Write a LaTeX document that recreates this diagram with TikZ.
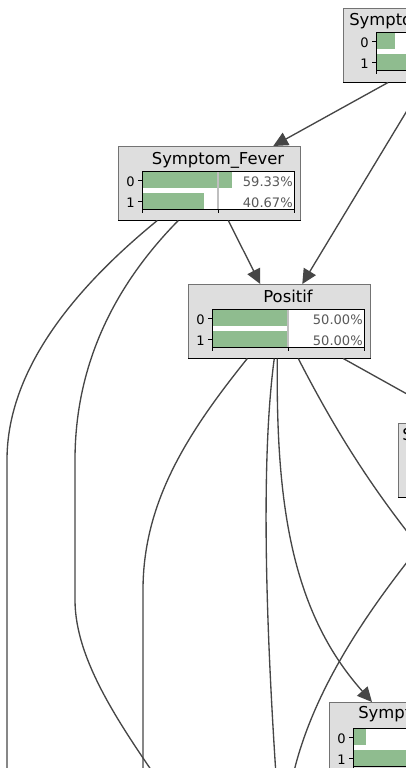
\documentclass[tikz,border=0pt]{standalone}
\usepackage{fontspec}
\setmainfont{DejaVu Sans}
\usetikzlibrary{arrows.meta,calc}

\definecolor{bngreen}{RGB}{143,188,143}
\definecolor{bnfill}{RGB}{222,222,222}
\definecolor{bnline}{RGB}{70,70,70}

\tikzset{
  bnbox/.style={rectangle, draw=black!55, fill=bnfill, inner sep=0pt,
    minimum height=55.5pt, anchor=north west},
  bntitle/.style={inner sep=0pt, font=\fontsize{12.3}{14}\selectfont},
  bnlabel/.style={inner sep=0pt, font=\fontsize{9.8}{11}\selectfont},
  bnpct/.style={bnlabel, text=black!65, anchor=base east},
  bnedge/.style={draw=bnline, line width=1pt},
  bnarrow/.style={bnedge, -{Triangle[length=11pt,width=10.5pt]}},
}

% bar chart of one node: frame left x, frame top y, P(0), P(1)
\newcommand{\bnchart}[4]{%
  \fill[white] (#1,#2) rectangle ++(152,38);
  \fill[bngreen] (#1,#2) rectangle ++({1.52*#3},17);
  \fill[bngreen] (#1,#2+22) rectangle ++({1.52*#4},16);
  \draw[black!25, line width=0.8pt] (#1+76,#2) -- ++(0,38);
  \draw[black, line width=0.7pt] (#1,#2) rectangle ++(152,38);
  \foreach \t in {0,76,152}
    \draw[black, line width=0.6pt] (#1+\t,#2+38) -- ++(0,4);
  \draw[black, line width=0.6pt] (#1,#2+9) -- ++(-4,0) (#1,#2+30) -- ++(-4,0);
  \node[bnlabel, anchor=base east] at (#1-7,#2+15) {0};
  \node[bnlabel, anchor=base east] at (#1-7,#2+36) {1};
}

% dark lower edge of a box
\newcommand{\bnshadow}[1]{%
  \draw[black, line width=1.4pt] (#1.south west) -- (#1.south east);
}

\begin{document}
\begin{tikzpicture}[x=0.75pt, y=-0.75pt]
  \useasboundingbox (0,0) rectangle (406,768);
  \clip (0,0) rectangle (406,768);

  % nodes
  \node[bnbox, minimum width=150pt] (symA) at (343,8) {};
  \bnshadow{symA}
  \node[bntitle, anchor=base west] (symAtitle) at (349,25) {Sympto};
  \bnchart{376}{32}{12.5}{87.5}

  \node[bnbox, minimum width=136.5pt] (fever) at (118,146) {};
  \bnshadow{fever}
  \node[bntitle, anchor=base] (fevertitle) at (218,164) {Symptom\_Fever};
  \bnchart{142}{171}{59.33}{40.67}
  \node[bnpct] (fever0) at (293,186) {59.33\%};
  \node[bnpct] (fever1) at (293,207) {40.67\%};

  \node[bnbox, minimum width=136.5pt] (positif) at (188,284) {};
  \bnshadow{positif}
  \node[bntitle, anchor=base] (positiftitle) at (288,302) {Positif};
  \bnchart{212}{309}{50}{50}
  \node[bnpct] (positif0) at (363,324) {50.00\%};
  \node[bnpct] (positif1) at (363,345) {50.00\%};

  \node[bnbox, minimum width=150pt] (symB) at (398,423) {};
  \bnshadow{symB}
  \node[bntitle, anchor=base west] (symBtitle) at (402,440) {S};

  \node[bnbox, minimum width=150pt] (symC) at (329,702) {};
  \node[bntitle, anchor=base west] (symCtitle) at (358,718) {Sympt};
  \bnchart{353}{728}{8.5}{91.5}

  % free ends below and right of the picture
  \coordinate (outA) at (7,790);
  \coordinate (outB) at (165,790);
  \coordinate (outC) at (143,790);
  \coordinate (outD) at (277,790);
  \coordinate (outE) at (440,572);
  \coordinate (outF) at (290,790);

  % edges
  \draw[bnarrow] ($(symA.south west)+(45,0)$) -- ($(fever.north)+(64,0)$);
  \draw[bnarrow] ($(symA.south west)+(81,0)$) -- ($(positif.north)+(23,0)$);
  \draw[bnarrow] ($(fever.south)+(19,0)$) -- ($(positif.north)+(-19,0)$);
  \draw[bnedge] ($(fever.south)+(-52,0)$) .. controls (60,300) and (7,380) .. (7,460) -- (outA);
  \draw[bnedge] ($(fever.south)+(-31,0)$) .. controls (110,290) and (75,370) .. (75,460)
    -- (75,600) .. controls (75,660) and (120,725) .. (outB);
  \draw[bnedge] ($(positif.south)+(-32,0)$) .. controls (190,430) and (143,500) .. (143,590) -- (outC);
  \draw[bnedge] ($(positif.south)+(-5,0)$) .. controls (262,450) and (264,600) .. (outD);
  \draw[bnarrow] ($(positif.south)+(-2,0)$) .. controls (276,500) and (290,610) .. ($(symC.north west)+(43,0)$);
  \draw[bnedge] ($(positif.south)+(19,0)$) .. controls (330,420) and (370,490) .. (outE);
  \draw[bnarrow] ($(positif.south)+(64,0)$) -- ($(symB.north west)+(61,0)$);
  \draw[bnedge] ($(symB.south west)+(62,0)$) .. controls (390,580) and (310,680) .. (outF);
\end{tikzpicture}
\end{document}
